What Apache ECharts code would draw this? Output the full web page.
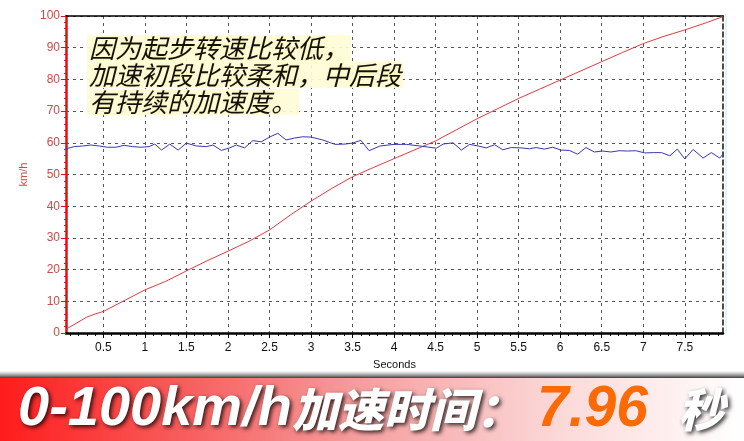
<!DOCTYPE html>
<html>
<head>
<meta charset="utf-8">
<script src="https://cdn.jsdelivr.net/npm/echarts@6/dist/echarts.min.js"></script>
<style>
html,body{margin:0;padding:0;background:#fff;}
#chart{width:744px;height:441px;}
</style>
</head>
<body>
<div id="chart"></div>
<script>
// ---- data ----
var xTicks = [0.5, 1, 1.5, 2, 2.5, 3, 3.5, 4, 4.5, 5, 5.5, 6, 6.5, 7, 7.5];
var xMinorTicks = [0.1,0.2,0.3,0.4,0.6,0.7,0.8,0.9,1.1,1.2,1.3,1.4,1.6,1.7,1.8,1.9,2.1,2.2,2.3,2.4,2.6,2.7,2.8,2.9,3.1,3.2,3.3,3.4,3.6,3.7,3.8,3.9,4.1,4.2,4.3,4.4,4.6,4.7,4.8,4.9,5.1,5.2,5.3,5.4,5.6,5.7,5.8,5.9,6.1,6.2,6.3,6.4,6.6,6.7,6.8,6.9,7.1,7.2,7.3,7.4,7.6,7.7,7.8,7.9];
var xMin = 0.05, xMax = 7.96;
var yMin = 0, yMax = 100, yStep = 10;

var speedTime = [0.05,0.3,0.4,0.5,0.75,1,1.25,1.5,1.75,2,2.25,2.5,2.75,3,3.25,3.5,3.75,4,4.25,4.5,4.75,5,5.25,5.5,5.75,6,6.25,6.5,6.75,7,7.25,7.5,7.75,7.96];
var speedValues = [1.2,5.0,6.0,6.8,10.2,13.6,16.3,19.6,22.8,25.8,28.9,32.5,37.2,41.6,45.6,49.3,52.2,55.0,57.8,60.6,64.1,67.6,70.8,74.0,76.9,79.8,82.7,85.6,88.5,91.3,93.6,95.6,97.8,99.8];

var blueTime = [0.05,0.15,0.25,0.35,0.45,0.55,0.65,0.75,0.85,0.95,1.05,1.12,1.2,1.3,1.4,1.5,1.62,1.74,1.82,1.92,2.02,2.1,2.2,2.3,2.4,2.5,2.6,2.7,2.8,2.9,3.0,3.14,3.29,3.41,3.5,3.6,3.7,3.83,4.0,4.15,4.31,4.51,4.59,4.71,4.81,4.91,5.01,5.11,5.21,5.31,5.41,5.53,5.63,5.71,5.81,5.91,6.01,6.11,6.21,6.31,6.41,6.51,6.61,6.71,6.81,6.91,7.02,7.12,7.22,7.32,7.41,7.5,7.6,7.72,7.82,7.92,7.96];
var blueValues = [58.1,58.8,59.0,59.3,59.0,58.6,58.6,59.2,58.8,58.6,58.8,59.6,57.7,59.6,57.7,59.9,59.0,58.8,59.3,57.6,58.4,59.3,58.4,60.7,60.3,61.8,63.0,60.9,61.5,61.9,61.8,60.9,59.5,59.6,59.9,60.8,57.5,59.0,59.5,59.5,59.0,58.3,59.6,60.0,57.7,59.5,59.0,58.4,59.4,57.8,58.5,58.4,58.1,58.5,58.0,58.6,57.7,57.6,56.4,58.5,57.1,57.4,57.1,57.5,57.4,57.5,56.8,56.9,56.9,55.9,58.0,54.9,57.9,55.2,56.9,55.2,56.4];

var noteLines = ['因为起步转速比较低，', '加速初段比较柔和，中后段', '有持续的加速度。'];
var bannerLabel = '0-100km/h';
var bannerLabelCn = '加速时间：';
var bannerValue = '7.96';
var bannerUnit = '秒';
var yName = 'km/h';
var xName = 'Seconds';

function pairs(t, v) { return t.map(function (x, i) { return [x, v[i]]; }); }

var chart = echarts.init(document.getElementById('chart'), null, {renderer: 'canvas'});

var dashGrid = {show: true, lineStyle: {color: '#555', type: [3, 4], width: 1}};
var axisRed = '#dd1111';
var labelRed = '#d04848';

var noteGraphics = noteLines.map(function (s, i) {
  return {
    type: 'text', z: 10,
    style: {
      text: s, x: 87, y: 48 + i * 27,
      verticalAlign: 'middle', align: 'left',
      font: 'italic 26px "Noto Sans CJK SC"',
      fill: '#111',
      backgroundColor: 'rgba(255,252,214,0.92)',
      padding: [0, 2, 0, 2],
      textShadowColor: '#fff3a0', textShadowBlur: 3
    }
  };
});

var shadowStyle = {textShadowColor: 'rgba(0,0,0,0.8)', textShadowBlur: 4, textShadowOffsetX: 2, textShadowOffsetY: 2};

var option = {
  animation: false,
  backgroundColor: '#ffffff',
  grid: {left: 66, right: 21, top: 16, bottom: 108, outerBoundsMode: 'none', containLabel: false},
  xAxis: [
    {
      type: 'value', position: 'bottom', min: xMin, max: xMax,
      name: xName, nameLocation: 'middle', nameGap: 26,
      nameTextStyle: {color: '#111', fontSize: 11, fontFamily: 'Liberation Sans'},
      axisLine: {show: true, onZero: false, lineStyle: {color: '#000', width: 2.5}},
      axisTick: {show: true, customValues: xTicks, length: 5, inside: false, lineStyle: {color: '#000', width: 1}},
      axisLabel: {show: true, customValues: xTicks, color: '#111', fontSize: 12, fontFamily: 'Liberation Sans', margin: 9,
        formatter: function (v) { return String(+(+v).toFixed(2)); }},
      splitLine: dashGrid,
      minorTick: {show: false}
    },
    {
      type: 'value', position: 'bottom', min: xMin, max: xMax,
      axisLine: {show: false, onZero: false},
      axisTick: {show: true, customValues: xMinorTicks, length: 3, lineStyle: {color: '#000', width: 1}},
      axisLabel: {show: false},
      splitLine: {show: false}
    },
    {
      type: 'value', position: 'top', min: xMin, max: xMax,
      axisLine: {show: true, onZero: false, lineStyle: {color: '#000', width: 1.5}},
      axisTick: {show: false}, axisLabel: {show: false}, splitLine: {show: false}
    }
  ],
  yAxis: [
    {
      type: 'value', position: 'left', min: yMin, max: yMax, interval: yStep,
      name: yName, nameLocation: 'middle', nameGap: 29, nameRotate: 90,
      nameTextStyle: {color: labelRed, fontSize: 11, fontFamily: 'Liberation Sans'},
      axisLine: {show: true, onZero: false, lineStyle: {color: axisRed, width: 2.5}},
      axisTick: {show: true, length: 5, lineStyle: {color: axisRed, width: 1}},
      minorTick: {show: true, splitNumber: 5, length: 2, lineStyle: {color: axisRed, width: 1}},
      axisLabel: {color: labelRed, fontSize: 12, fontFamily: 'Liberation Sans', margin: 6},
      splitLine: dashGrid
    },
    {
      type: 'value', position: 'right', min: yMin, max: yMax,
      axisLine: {show: true, onZero: false, lineStyle: {color: '#111', width: 1.5, type: [5, 3]}},
      axisTick: {show: false}, axisLabel: {show: false}, splitLine: {show: false}
    }
  ],
  series: [
    {
      type: 'line', name: 'speed', xAxisIndex: 0, yAxisIndex: 0,
      data: pairs(speedTime, speedValues), symbol: 'none', smooth: false,
      lineStyle: {color: '#dc3c44', width: 1}, z: 3
    },
    {
      type: 'line', name: 'rpm', xAxisIndex: 0, yAxisIndex: 0,
      data: pairs(blueTime, blueValues), symbol: 'none', smooth: false,
      lineStyle: {color: '#3838b0', width: 1}, z: 3
    }
  ],
  graphic: noteGraphics.concat([
    {type: 'rect', z: 5, shape: {x: 725, y: 14, width: 2, height: 320}, style: {fill: '#dff4f8'}},
    {type: 'rect', z: 5, shape: {x: 0, y: 371, width: 744, height: 7},
      style: {fill: new echarts.graphic.LinearGradient(0, 0, 0, 1, [
        {offset: 0, color: 'rgba(120,120,120,0)'}, {offset: 0.45, color: 'rgba(110,110,110,0.5)'}, {offset: 1, color: '#3a3a3a'}])}},
    {type: 'rect', z: 5, shape: {x: 0, y: 378, width: 744, height: 63},
      style: {fill: new echarts.graphic.LinearGradient(0, 0, 1, 0, [
        {offset: 0, color: '#ff1c1c'}, {offset: 0.25, color: '#f85e5e'}, {offset: 0.5, color: '#f5a2a2'},
        {offset: 0.75, color: '#fcd8d8'}, {offset: 1, color: '#ffffff'}])}},
    {type: 'text', z: 6, style: {
      x: 18, y: 410, verticalAlign: 'middle', align: 'left',
      text: '{a|' + bannerLabel + '}{b|' + bannerLabelCn + '}',
      rich: {
        a: Object.assign({fontSize: 56, fontWeight: 'bold', fontStyle: 'italic', fontFamily: 'Liberation Sans', fill: '#fff'}, shadowStyle),
        b: Object.assign({fontSize: 46, fontWeight: 900, fontStyle: 'italic', fontFamily: 'Noto Sans CJK SC', fill: '#fff'}, shadowStyle)
      }
    }},
    {type: 'text', z: 6, style: {
      x: 537, y: 410, verticalAlign: 'middle', align: 'left', text: bannerValue,
      font: 'italic bold 57px "Liberation Sans"', fill: '#ff6a00'
    }},
    {type: 'text', z: 6, style: Object.assign({
      x: 678, y: 410, verticalAlign: 'middle', align: 'left', text: bannerUnit,
      font: 'italic 900 46px "Noto Sans CJK SC"', fill: '#fff'
    }, shadowStyle)}
  ])
};
chart.setOption(option);
</script>
</body>
</html>
